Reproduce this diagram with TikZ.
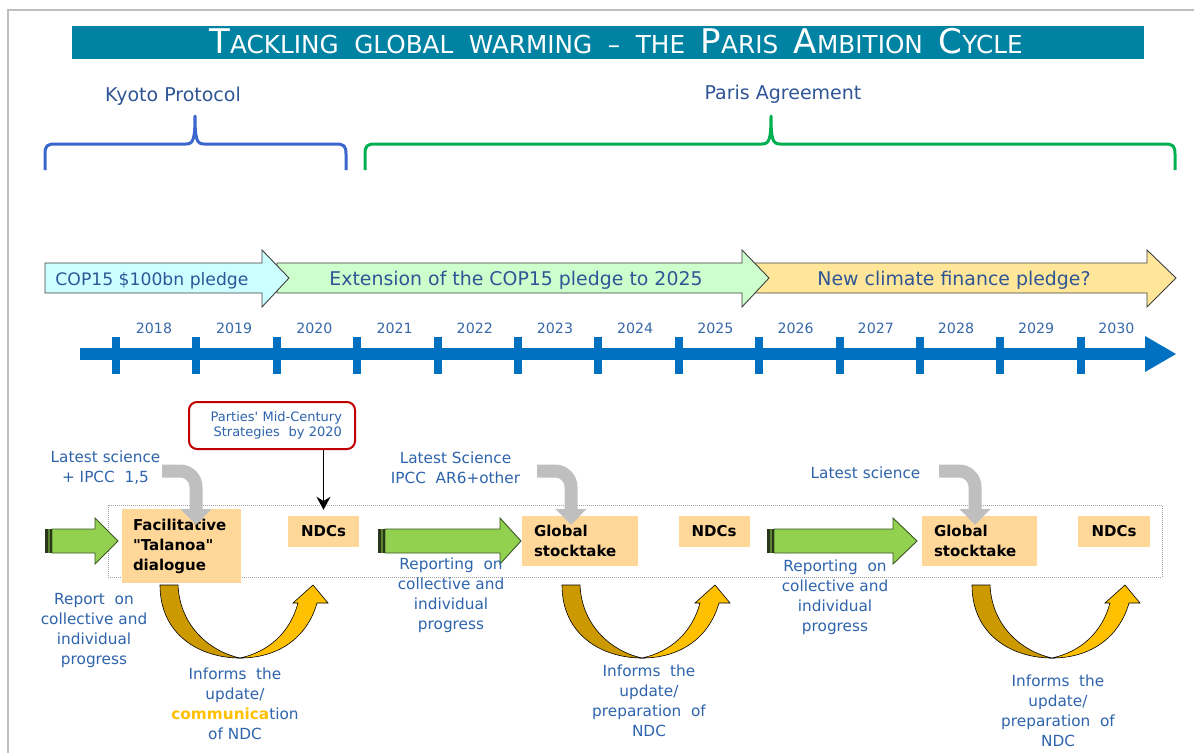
\documentclass[tikz,border=0pt]{standalone}
\usepackage{fontspec}
\setmainfont{DejaVu Sans}[Ligatures=TeXOff]
\usetikzlibrary{arrows.meta}
\definecolor{titlebar}{RGB}{0,130,162}
\definecolor{framegray}{RGB}{190,190,190}
\definecolor{bluebrace}{RGB}{59,102,204}
\definecolor{greenbrace}{RGB}{0,176,80}
\definecolor{headtext}{RGB}{47,85,151}
\definecolor{lbltext}{RGB}{46,100,172}
\definecolor{yeartext}{RGB}{55,105,170}
\definecolor{cyanfill}{RGB}{204,255,255}
\definecolor{lgreenfill}{RGB}{204,255,204}
\definecolor{lyellowfill}{RGB}{255,230,153}
\definecolor{arrowborder}{RGB}{64,64,64}
\definecolor{tlblue}{RGB}{0,112,192}
\definecolor{boxorange}{RGB}{255,215,153}
\definecolor{partyred}{RGB}{192,0,0}
\definecolor{garrowfill}{RGB}{146,208,80}
\definecolor{garrowline}{RGB}{56,87,35}
\definecolor{stripedark}{RGB}{40,55,25}
\definecolor{stripemid}{RGB}{90,130,50}
\definecolor{sciencegray}{RGB}{191,191,191}
\definecolor{udark}{RGB}{204,153,0}
\definecolor{ubright}{RGB}{255,192,0}
\definecolor{dotgray}{RGB}{160,160,160}
\newcommand\BigLetter[1]{{\fontsize{34}{34}\selectfont #1}}
\newcommand\tsp{\hspace{15.6pt}}
\newcommand\myUarrow[1]{%
\begin{scope}[xshift=#1pt]
\filldraw[fill=udark, draw=black, line width=0.6pt] (160,585) .. controls (160,635) and (200,658) .. (240,658) .. controls (212,652) and (180,628) .. (178,585) -- cycle;
\filldraw[fill=ubright, draw=black, line width=0.6pt] (240,658) .. controls (278,658) and (307,638) .. (317,603) -- (328,603) -- (313,585) -- (293,603) -- (298,603) .. controls (290,633) and (268,652) .. (240,658) -- cycle;
\end{scope}}
\begin{document}
\begin{tikzpicture}[x=1pt,y=-1pt,
  headlbl/.style={text=headtext, font=\fontsize{19}{23}\selectfont, inner sep=0pt, anchor=base},
  fintext/.style={text=headtext, font=\fontsize{18.9}{23}\selectfont, inner sep=0pt, anchor=base},
  year/.style={text=yeartext, font=\fontsize{14.2}{17}\selectfont, inner sep=0pt, anchor=base},
  lbl/.style={text=lbltext, font=\fontsize{15.3}{20}\selectfont, align=center, inner sep=0pt},
  obox/.style={fill=boxorange, font=\bfseries\fontsize{15}{20}\selectfont, text=black, inner ysep=0pt},
  finarrow/.style={draw=arrowborder, line width=0.9pt, line join=miter},
  garrow/.style={fill=garrowfill, draw=garrowline, line width=0.9pt},
  grayarrow/.style={draw=sciencegray, line width=13pt, rounded corners=16pt, -{Triangle[width=30pt,length=16pt]}},
  blackarrow/.style={draw=black, line width=1.8pt, -{Stealth[width=14pt,length=13pt]}},
  partybox/.style={draw=partyred, line width=2pt, rounded corners=8pt, fill=white, text=lbltext, font=\fontsize{13}{15.5}\selectfont, align=right, text width=140pt, inner xsep=13pt, minimum height=47pt}
]
\useasboundingbox (0,0) rectangle (1194,753);
\fill[white] (0,0) rectangle (1194,753);
% frame
\draw[framegray, line width=1.5pt] (8,753) -- (8,10) -- (1194,10);
% title
\node[fill=titlebar, minimum width=1072pt, minimum height=33pt, inner sep=0pt] (titlebar) at (608,42.5) {};
\node[anchor=base, text=white, inner sep=0pt, font=\fontsize{24.7}{30}\selectfont] (titletext) at (616,53)
  {\BigLetter{T}ACKLING\tsp GLOBAL\tsp WARMING\tsp –\tsp THE\tsp \BigLetter{P}ARIS\tsp \BigLetter{A}MBITION\tsp \BigLetter{C}YCLE};
% braces
\node[headlbl] (kyoto) at (173,101) {Kyoto Protocol};
\node[headlbl] (paris) at (783,99) {Paris Agreement};
\draw[bluebrace, line width=3pt, line join=round] (45,170) -- (45,154) .. controls (45,146) and (47,144) .. (55,144) -- (186,144) .. controls (193,144) and (195,140) .. (195,116) .. controls (195,140) and (197,144) .. (204,144) -- (336,144) .. controls (344,144) and (346,146) .. (346,154) -- (346,170);
\draw[greenbrace, line width=3pt, line join=round] (365,170) -- (365,154) .. controls (365,146) and (367,144) .. (375,144) -- (762,144) .. controls (769,144) and (771,140) .. (771,116) .. controls (771,140) and (773,144) .. (780,144) -- (1165,144) .. controls (1173,144) and (1175,146) .. (1175,154) -- (1175,170);
% finance arrows
\draw[finarrow, fill=lyellowfill] (753,263) -- (1147,263) -- (1147,250) -- (1176,278) -- (1147,307) -- (1147,293) -- (753,293) -- cycle;
\draw[finarrow, fill=lgreenfill] (277,263) -- (742,263) -- (742,250) -- (769,278) -- (742,307) -- (742,293) -- (277,293) -- cycle;
\draw[finarrow, fill=cyanfill] (45,263) -- (262,263) -- (262,250) -- (289,278) -- (262,307) -- (262,293) -- (45,293) -- cycle;
\node[text=headtext, font=\fontsize{17.2}{21}\selectfont, inner sep=0pt, anchor=base] (fin1) at (152,285) {COP15 \$100bn pledge};
\node[fintext] (fin2) at (516,285) {Extension of the COP15 pledge to 2025};
\node[fintext] (fin3) at (954,285) {New climate finance pledge?};
% timeline
\fill[tlblue] (80,348) rectangle (1147,360);
\fill[tlblue] (1145,336) -- (1176,354) -- (1145,372) -- cycle;
\foreach \k in {0,...,12} {
  \fill[tlblue] ({116+80.4*\k-4},337) rectangle ({116+80.4*\k+4},374);
}
\foreach \k/\yr in {0/2018,1/2019,2/2020,3/2021,4/2022,5/2023,6/2024,7/2025,8/2026,9/2027,10/2028,11/2029,12/2030} {
  \node[year] (y\yr) at ({154+80.2*\k},333) {\yr};
}
% dotted frame
\draw[dotgray, line width=0.8pt, dash pattern=on 1pt off 1pt] (108,505) rectangle (1162,577);
% green striped arrows
\foreach \a/\b/\c in {45/95/118, 378/500/521, 767/893/917} {
  \draw[garrow] ({\a+7},529) -- (\b,529) -- (\b,518) -- (\c,541) -- (\b,564) -- (\b,553) -- ({\a+7},553) -- cycle;
  \fill[stripedark] (\a,529) rectangle ({\a+3},553);
  \fill[stripemid] ({\a+3},529) rectangle ({\a+4.5},553);
  \fill[stripedark] ({\a+4.5},529) rectangle ({\a+7},553);
}
% boxes
\node[obox, minimum width=119pt, minimum height=74pt, text width=97pt, align=left, inner xsep=11pt] (tal) at (181.5,546) {Facilitative\\"Talanoa"\\dialogue};
\node[obox, minimum width=71pt, minimum height=31pt, align=center] (ndc1) at (323.5,531.5) {NDCs};
\node[obox, minimum width=116pt, minimum height=50pt, text width=92pt, align=left, inner xsep=12pt] (gs2) at (580,541) {Global\\stocktake};
\node[obox, minimum width=71pt, minimum height=31pt, align=center] (ndc2) at (714,531.5) {NDCs};
\node[obox, minimum width=115pt, minimum height=50pt, text width=91pt, align=left, inner xsep=12pt] (gs3) at (979.5,541) {Global\\stocktake};
\node[obox, minimum width=72pt, minimum height=31pt, align=center] (ndc3) at (1114,531.5) {NDCs};
% parties box
\node[partybox] (parties) at (272,425.5) {Parties' Mid-Century\\Strategies\ \ by 2020};
\draw[blackarrow] (parties.south -| ndc1.north) -- ([yshift=6pt]ndc1.north);
% science labels
\node[lbl] (lat1) at (105.5,467.7) {Latest science\\+ IPCC\ \ 1,5};
\node[lbl] (lat2) at (455.5,467.7) {Latest Science\\IPCC\ \ AR6+other};
\node[lbl, anchor=base] (lat3) at (865.5,478) {Latest science};
\coordinate (g1a) at (162,471);
\coordinate (g1b) at (196,525);
\coordinate (g2a) at (537,471);
\coordinate (g2b) at (571,525);
\coordinate (g3a) at (939,471);
\coordinate (g3b) at (975,525);
\draw[grayarrow] (g1a) -| (g1b);
\draw[grayarrow] (g2a) -| (g2b);
\draw[grayarrow] (g3a) -| (g3b);
% reporting labels
\node[lbl] (rep1) at (94,631) {Report\ \ on\\collective and\\individual\\progress};
\node[lbl] (rep2) at (451,595.7) {Reporting\ \ on\\collective and\\individual\\progress};
\node[lbl] (rep3) at (835,597.7) {Reporting\ \ on\\collective and\\individual\\progress};
% U arrows
\myUarrow{0}
\myUarrow{402}
\myUarrow{812}
% informs labels
\node[lbl] (inf1) at (235,704) {Informs\ \ the\\update/\\{\bfseries\color{ubright}communica}tion\\of NDC};
\node[lbl] (inf2) at (649,700.7) {Informs\ \ the\\update/\\preparation\ \ of\\NDC};
\node[lbl] (inf3) at (1058,710.7) {Informs\ \ the\\update/\\preparation\ \ of\\NDC};
\end{tikzpicture}
\end{document}
